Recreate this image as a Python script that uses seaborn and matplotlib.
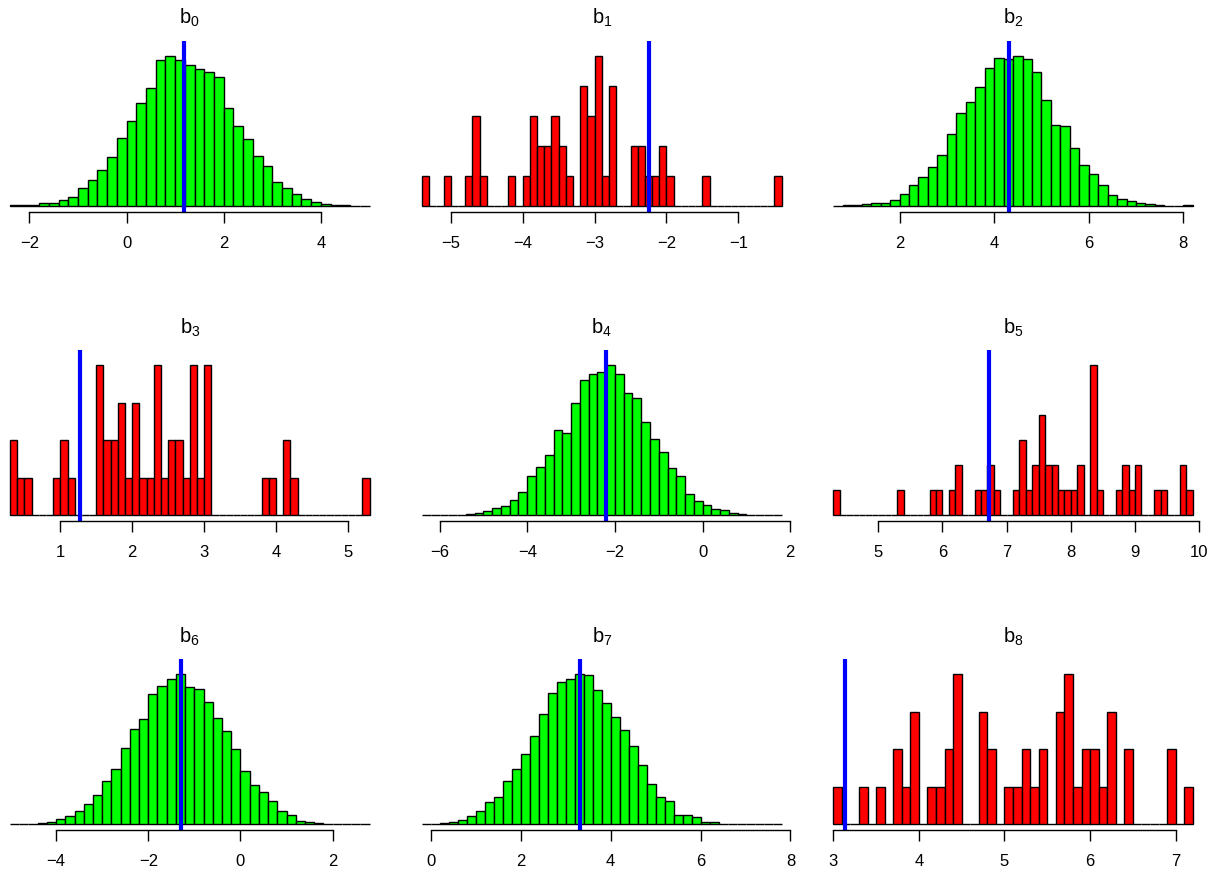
import numpy as np
import pandas as pd
import matplotlib
matplotlib.use("Agg")
import matplotlib.pyplot as plt
import seaborn as sns

# histogram counts for each coefficient
titles = ["b_0", "b_1", "b_2", "b_3", "b_4", "b_5", "b_6", "b_7", "b_8"]

b0_counts = [1, 1, 2, 7, 7, 18, 27, 52, 78, 107, 146, 204, 255, 308, 355, 437, 451, 439,
             424, 411, 402, 387, 293, 241, 202, 150, 119, 72, 52, 35, 20, 10, 5, 2, 1, 0, 0]
b1_counts = [1, 0, 0, 1, 0, 0, 1, 3, 1, 0, 0, 0, 1, 0, 1, 3, 2, 2, 3, 2, 1, 0, 4, 3, 5,
             1, 4, 0, 0, 2, 2, 1, 1, 2, 1, 0, 0, 0, 0, 1, 0, 0, 0, 0, 0, 0, 0, 0, 0, 1]
b2_counts = [0, 1, 1, 6, 7, 8, 18, 35, 61, 86, 117, 153, 215, 277, 311, 357, 413, 444, 441,
             450, 439, 402, 317, 243, 239, 172, 122, 95, 62, 33, 19, 14, 7, 6, 1, 0, 0, 1]
b3_counts = [2, 1, 1, 0, 0, 0, 1, 2, 1, 0, 0, 0, 4, 2, 2, 3, 1, 3, 1, 1, 4, 1, 2, 2, 1,
             4, 1, 4, 0, 0, 0, 0, 0, 0, 0, 1, 1, 0, 2, 1, 0, 0, 0, 0, 0, 0, 0, 0, 0, 1]
b4_counts = [0, 0, 0, 1, 1, 3, 5, 13, 21, 28, 44, 70, 116, 143, 180, 255, 245, 335, 405, 424,
             428, 450, 422, 367, 352, 280, 227, 190, 142, 116, 64, 42, 30, 18, 15, 6, 3, 1, 1, 0, 0]
b5_counts = [1, 0, 0, 0, 0, 0, 0, 0, 0, 0, 1, 0, 0, 0, 0, 1, 1, 0, 1, 2, 0, 0, 1, 1, 2, 1, 0, 0,
             1, 3, 1, 2, 4, 2, 2, 1, 1, 1, 2, 0, 6, 1, 0, 0, 1, 2, 1, 2, 0, 0, 1, 1, 0, 0, 2, 1]
b6_counts = [0, 0, 1, 4, 6, 16, 24, 40, 60, 88, 129, 166, 227, 285, 315, 390, 412, 433, 448, 411,
             405, 365, 318, 280, 225, 159, 116, 96, 69, 41, 28, 10, 6, 3, 2, 1, 0, 0, 1]
b7_counts = [0, 1, 3, 7, 14, 26, 39, 66, 81, 129, 165, 211, 265, 330, 393, 424, 433, 448, 447, 401,
             361, 321, 282, 233, 178, 120, 83, 69, 28, 28, 22, 7, 6, 1, 1, 1, 1, 0, 0, 1]
b8_counts = [1, 0, 0, 1, 0, 1, 0, 2, 1, 3, 0, 1, 1, 2, 4, 0, 0, 3, 2, 0, 1, 1, 2, 1, 2, 0, 3,
             4, 1, 2, 2, 1, 3, 0, 2, 0, 0, 0, 0, 2, 0, 1]

bin_start = [-2.4, -5.4, 0.6, 0.3, -6.4, 4.3, -5.0, -0.2, 3.0]
bin_width = [0.2, 0.1, 0.2, 0.1, 0.2, 0.1, 0.2, 0.2, 0.1]
true_values = [1.19, -2.24, 4.31, 1.28, -2.20, 6.72, -1.29, 3.31, 3.14]
bar_colors = ["#00FF00", "#FF0000", "#00FF00", "#FF0000", "#00FF00",
              "#FF0000", "#00FF00", "#00FF00", "#FF0000"]
tick_sets = [[-2, 0, 2, 4], [-5, -4, -3, -2, -1], [2, 4, 6, 8],
             [1, 2, 3, 4, 5], [-6, -4, -2, 0, 2], [5, 6, 7, 8, 9, 10],
             [-4, -2, 0, 2], [0, 2, 4, 6, 8], [3, 4, 5, 6, 7]]

all_counts = [b0_counts, b1_counts, b2_counts, b3_counts, b4_counts,
              b5_counts, b6_counts, b7_counts, b8_counts]

sns.set_style("white")
plt.rcParams['font.family'] = ['Liberation Sans', 'DejaVu Sans']
plt.rcParams['mathtext.fontset'] = 'custom'
plt.rcParams['mathtext.rm'] = 'Liberation Sans'
plt.rcParams['mathtext.it'] = 'Liberation Sans'

W, H = 1215, 873
fig = plt.figure(figsize=(W / 100, H / 100), dpi=100)

col_start = [10, 422, 833.3]
bar_span = 359.5
row_base = [205.7, 515.0, 824.3]

for i in range(9):
    r, c = divmod(i, 3)
    counts = np.array(all_counts[i], dtype=float)
    edges = bin_start[i] + bin_width[i] * np.arange(len(counts) + 1)
    df = pd.DataFrame({'value': edges[:-1] + bin_width[i] / 2, 'n': counts})
    lo, hi = edges[0], edges[-1]
    M = counts.max()

    left_px = col_start[c] - 0.04 * bar_span
    top_px = row_base[r] - 165
    bot_px = row_base[r] + 6
    ax = fig.add_axes([left_px / W, 1 - bot_px / H, bar_span * 1.08 / W, (bot_px - top_px) / H])

    sns.histplot(data=df, x='value', weights='n', bins=edges.tolist(), color=bar_colors[i],
                 alpha=1, edgecolor='black', linewidth=1.0, ax=ax)
    ax.axvline(true_values[i], color='#0000FF', lw=3, solid_capstyle='round')

    pad = 0.04 * (hi - lo)
    ax.set_xlim(lo - pad, hi + pad)
    ax.set_ylim(-0.04 * M, 1.10 * M)
    ax.set_yticks([])
    ax.set_ylabel('')
    ax.set_xlabel('')
    ax.set_xticks(tick_sets[i])
    ax.tick_params(axis='x', direction='out', length=7.9, width=1, pad=9.5,
                   labelsize=12, colors='black', bottom=True)
    for s in ['top', 'left', 'right']:
        ax.spines[s].set_visible(False)
    ax.spines['bottom'].set_bounds(tick_sets[i][0], tick_sets[i][-1])
    ax.spines['bottom'].set_color('black')
    ax.spines['bottom'].set_linewidth(1)
    ax.patch.set_alpha(0)

    cx = col_start[c] + bar_span / 2
    fig.text(cx / W, 1 - (24 + r * 309.3) / H, r'$\mathregular{%s}$' % titles[i],
             ha='center', va='baseline', fontsize=14.4, color='black')

fig.savefig('out.png', dpi=100)
plt.close(fig)
